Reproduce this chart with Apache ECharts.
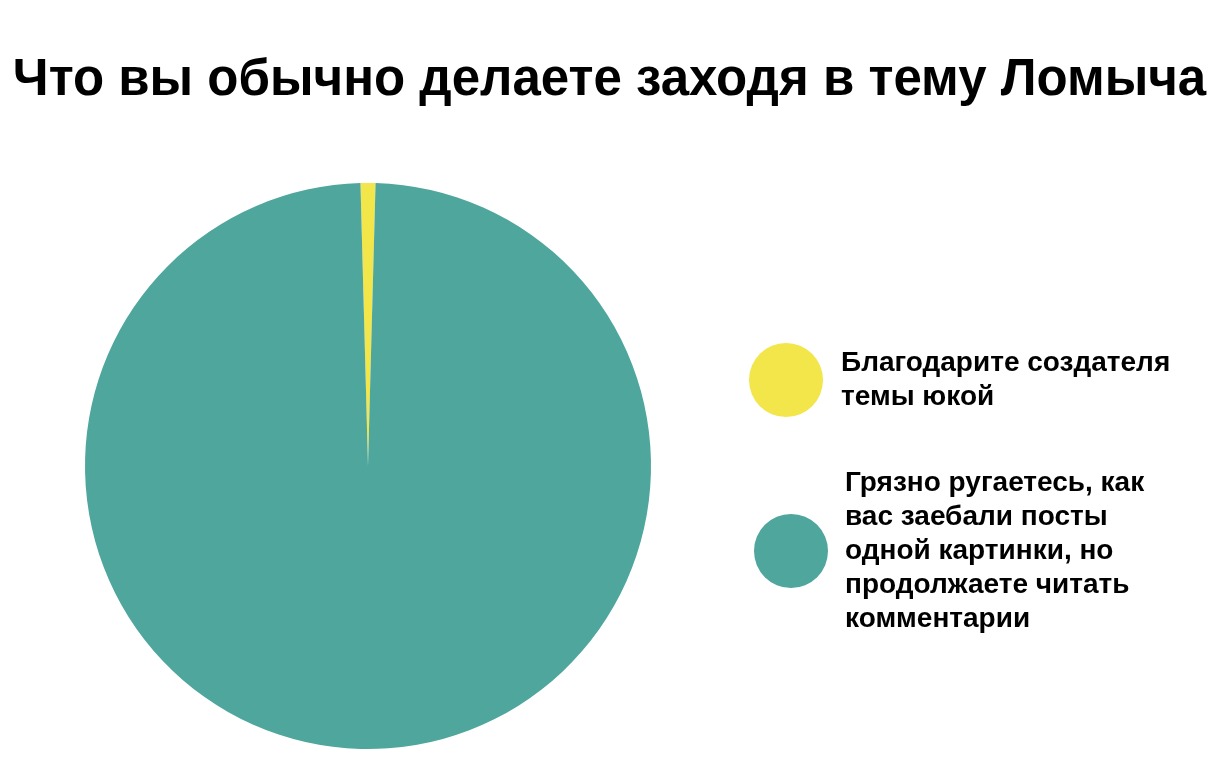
<!DOCTYPE html>
<html><head><meta charset="utf-8">
<script src="https://cdn.jsdelivr.net/npm/echarts@6/dist/echarts.min.js"></script>
<style>html,body{margin:0;padding:0;background:#fff;}#c{width:1219px;height:776px;}</style>
</head><body><div id="c"></div>
<script>
var titleText = 'Что вы обычно делаете заходя в тему Ломыча';
var categories = ['Благодарите создателя\nтемы юкой', 'Грязно ругаетесь, как\nвас заебали посты\nодной картинки, но\nпродолжаете читать\nкомментарии'];
var values = [0.85, 99.15];
var colors = ['#f2e64b', '#4ea69d'];

var FONT = "'Liberation Sans', Arial, sans-serif";
var legendText = {fontFamily: FONT, fontWeight: 'bold', fontSize: 28, lineHeight: 34, color: '#000'};
function mkLegend(name, left, top, padLeft) {
  return {
    orient: 'vertical', left: left, top: top, padding: 0,
    itemWidth: 74, itemHeight: 74,
    icon: 'circle', data: [name], selectedMode: false,
    textStyle: Object.assign({padding: [0, 0, 0, padLeft]}, legendText)
  };
}
var chart = echarts.init(document.getElementById('c'));
chart.setOption({
  backgroundColor: '#ffffff',
  animation: false,
  title: {
    text: titleText, left: 'center', top: 50,
    textStyle: {fontFamily: FONT, fontWeight: 'bold', fontSize: 51, color: '#000'}
  },
  legend: [
    mkLegend(categories[0], 749, 343, 13),
    mkLegend(categories[1], 754, 466, 12)
  ],
  series: [{
    type: 'pie',
    center: [368, 466],
    radius: 283,
    startAngle: 90 + values[0] * 3.6 / 2,
    label: {show: false},
    labelLine: {show: false},
    itemStyle: {borderWidth: 0},
    emphasis: {disabled: true},
    data: categories.map(function (n, i) { return {name: n, value: values[i], itemStyle: {color: colors[i]}}; })
  }]
});
</script></body></html>
